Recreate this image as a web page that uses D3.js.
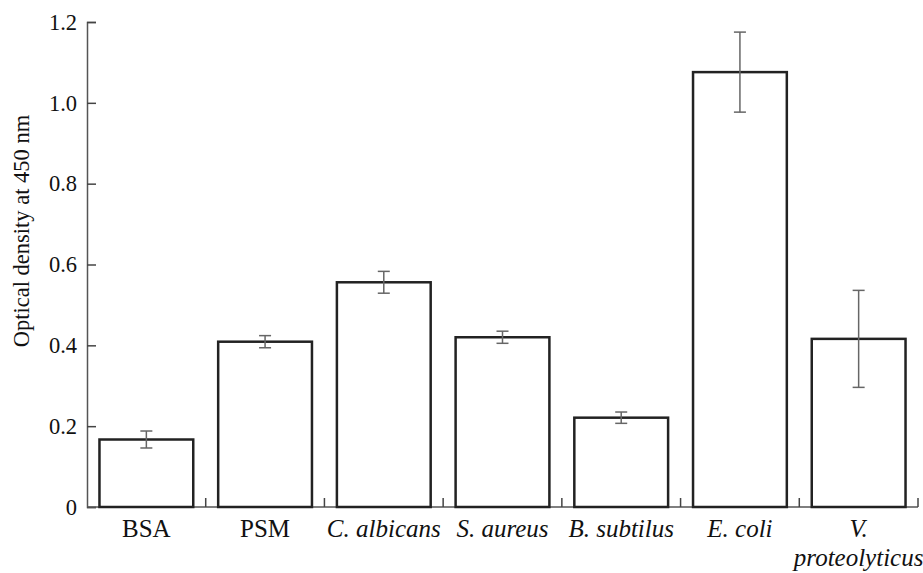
<html>
<head>
<meta charset="utf-8">
<script src="https://cdn.jsdelivr.net/npm/d3@7/dist/d3.min.js"></script>
</head>
<body style="margin:0; background:#fff">
<svg id="chart" width="923" height="573"></svg>
<script>
	// data
	var v_Categories = ["BSA", "PSM", "C. albicans", "S. aureus", "B. subtilus", "E. coli", "V. proteolyticus"];
	var v_Italic     = [false, false, true, true, true, true, true];
	var v_Values     = [0.167, 0.409, 0.556, 0.420, 0.221, 1.076, 0.416];
	var v_Errors     = [0.021, 0.015, 0.027, 0.015, 0.014, 0.099, 0.120];
	var v_YTicks     = [0, 0.2, 0.4, 0.6, 0.8, 1.0, 1.2];

	var v_Font = "'Liberation Serif'";

	var v_SVG = d3.select("#chart");

	var x = d3.scaleBand()
		.domain(v_Categories)
		.range([87, 918])
		.padding(0);

	var y = d3.scaleLinear()
		.domain([0, 1.2])
		.range([507, 22]);

	var v_BarW = x.bandwidth() * 0.79;

	// axes
	var v_YAxis = d3.axisLeft(y)
		.tickValues(v_YTicks)
		.tickSize(-9)
		.tickPadding(10)
		.tickFormat(function (d) { return d === 0 ? "0" : d3.format(".1f")(d); });

	var gy = v_SVG.append("g")
		.attr("transform", "translate(87,0)")
		.call(v_YAxis)
		.attr("font-family", null)
		.attr("font-size", null);
	gy.select(".domain").attr("stroke", "#555").attr("stroke-width", 1.5);
	gy.selectAll(".tick line").attr("stroke", "#444").attr("stroke-width", 1.5);
	gy.selectAll(".tick text")
		.style("font-family", v_Font)
		.style("font-size", "22.5px")
		.attr("fill", "#111");

	// x axis line and boundary ticks
	v_SVG.append("line")
		.attr("x1", x.range()[0]).attr("x2", x.range()[1])
		.attr("y1", y(0)).attr("y2", y(0))
		.attr("stroke", "#555").attr("stroke-width", 1.5);

	v_SVG.selectAll(".xtick")
		.data(v_Categories)
		.enter().append("line")
		.attr("class", "xtick")
		.attr("x1", function (d) { return x(d) + x.bandwidth(); })
		.attr("x2", function (d) { return x(d) + x.bandwidth(); })
		.attr("y1", y(0))
		.attr("y2", y(0) - 9)
		.attr("stroke", "#444").attr("stroke-width", 1.5);

	// bars
	v_SVG.selectAll(".bar")
		.data(v_Values)
		.enter().append("rect")
		.attr("class", "bar")
		.attr("x", function (d, i) { return x(v_Categories[i]) + (x.bandwidth() - v_BarW) / 2; })
		.attr("y", function (d) { return y(d); })
		.attr("width", v_BarW)
		.attr("height", function (d) { return y(0) - y(d); })
		.attr("fill", "none")
		.attr("stroke", "#222")
		.attr("stroke-width", 2.5);

	// error bars
	var v_Err = v_SVG.selectAll(".err")
		.data(v_Values)
		.enter().append("g")
		.attr("class", "err")
		.attr("transform", function (d, i) { return "translate(" + (x(v_Categories[i]) + x.bandwidth() / 2) + ",0)"; })
		.attr("stroke", "#666")
		.attr("stroke-width", 1.5);

	v_Err.append("line")
		.attr("y1", function (d, i) { return y(d + v_Errors[i]); })
		.attr("y2", function (d, i) { return y(d - v_Errors[i]); });
	v_Err.append("line")
		.attr("x1", -6).attr("x2", 6)
		.attr("y1", function (d, i) { return y(d + v_Errors[i]); })
		.attr("y2", function (d, i) { return y(d + v_Errors[i]); });
	v_Err.append("line")
		.attr("x1", -6).attr("x2", 6)
		.attr("y1", function (d, i) { return y(d - v_Errors[i]); })
		.attr("y2", function (d, i) { return y(d - v_Errors[i]); });

	// category labels
	v_SVG.selectAll(".xlabel")
		.data(v_Categories)
		.enter().append("text")
		.attr("class", "xlabel")
		.attr("x", function (d) { return x(d) + x.bandwidth() / 2; })
		.attr("y", 537)
		.attr("text-anchor", "middle")
		.style("font-family", v_Font)
		.style("font-size", "25px")
		.style("font-style", function (d, i) { return v_Italic[i] ? "italic" : "normal"; })
		.attr("fill", "#111")
		.each(function (d) {
			var v_Parts = d === "V. proteolyticus" ? ["V.", "proteolyticus"] : [d];
			var v_Text = d3.select(this);
			v_Parts.forEach(function (p, k) {
				v_Text.append("tspan")
					.attr("x", x(d) + x.bandwidth() / 2)
					.attr("dy", k === 0 ? 0 : 29)
					.text(p);
			});
		});

	// y axis title
	v_SVG.append("text")
		.attr("transform", "translate(29,231) rotate(-90)")
		.attr("text-anchor", "middle")
		.style("font-family", v_Font)
		.style("font-size", "22.5px")
		.attr("fill", "#111")
		.text("Optical density at 450 nm");
</script>
</body>
</html>
